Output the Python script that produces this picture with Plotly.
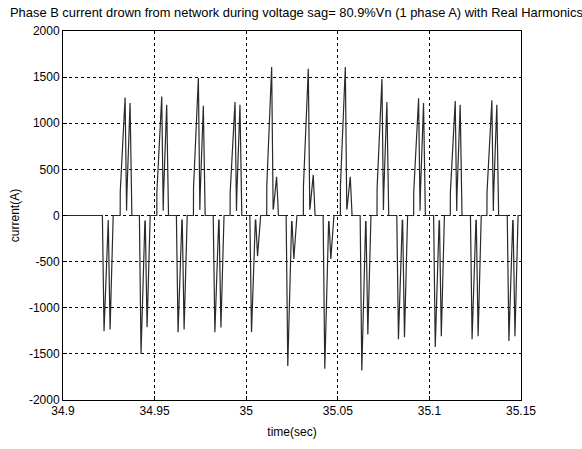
import plotly.graph_objects as go

# ---- data ----
pos_start = [34.9312, 34.9512, 34.9712, 34.9912, 35.0112, 35.0312, 35.0514, 35.0714, 35.0914, 35.1114, 35.1314]
pos_peak1 = [1280, 1290, 1490, 1230, 1610, 1590, 1610, 1480, 1270, 1240, 1250]
pos_peak2 = [1220, 1200, 1190, 1200, 420, 440, 420, 1230, 1220, 1200, 1200]

neg_start = [34.9215, 34.9417, 34.9619, 34.9820, 35.0020, 35.0218, 35.0420, 35.0622, 35.0822, 35.1023, 35.1224, 35.1425]
neg_peak1 = [-1255, -1500, -1265, -1265, -1265, -1630, -1660, -1680, -1340, -1425, -1340, -1360]
neg_peak2 = [-1235, -1210, -1235, -1215, -440, -470, -470, -1290, -1320, -1310, -1310, -1310]

x_ticks = [34.9, 34.95, 35, 35.05, 35.1, 35.15]
x_tick_text = ["34.9", "34.95", "35", "35.05", "35.1", "35.15"]
y_ticks = [-2000, -1500, -1000, -500, 0, 500, 1000, 1500, 2000]
y_tick_text = ["-2000", "-1500", "-1000", "-500", "0", "500", "1000", "1500", "2000"]

# pulse shape (time offsets within one half-cycle current pulse, seconds)
pos_dt = [0.0, 0.00005, 0.0027, 0.0035, 0.0037, 0.0054, 0.0064]
neg_dt = [0.0, 0.0009, 0.0030, 0.0032, 0.0042, 0.0057, 0.0059]

events = []
for s, a, b in zip(pos_start, pos_peak1, pos_peak2):
    vals = [0, 0.2 * a, a, 0.04 * a, 0.2 * b, b, 0]
    events.append([(s + d, v) for d, v in zip(pos_dt, vals)])
for s, a, b in zip(neg_start, neg_peak1, neg_peak2):
    vals = [0, a, 0.04 * a, 0.04 * a, b, 0.2 * b, 0]
    events.append([(s + d, v) for d, v in zip(neg_dt, vals)])
events.sort(key=lambda e: e[0][0])

t = [34.9]
cur = [0]
for e in events:
    for tt, vv in e:
        t.append(tt)
        cur.append(vv)
t.append(35.15)
cur.append(0)

fig = go.Figure()
fig.add_trace(go.Scatter(x=t, y=cur, mode="lines",
                         line=dict(color="#2a2a2a", width=1.2), showlegend=False))

font = dict(family="Liberation Sans, Arial, sans-serif", size=12, color="black")
axis_common = dict(showline=True, linecolor="black", linewidth=1, mirror=True,
                   ticks="inside", ticklen=4, tickcolor="black",
                   showgrid=True, gridcolor="black", gridwidth=1, griddash="dot",
                   zeroline=False, tickfont=font)

fig.update_layout(
    width=582, height=449,
    margin=dict(l=63, r=61, t=31, b=43),
    paper_bgcolor="white", plot_bgcolor="white",
    font=font,
    title=dict(text="Phase B current drown from network during voltage sag= 80.9%Vn (1 phase A) with Real Harmonics",
               x=10 / 582, xanchor="left", xref="container", y=0.972, yanchor="middle", yref="container",
               font=dict(family="Liberation Sans, Arial, sans-serif", size=12.9, color="black")),
    xaxis=dict(range=[34.9, 35.15], tickvals=x_ticks, ticktext=x_tick_text,
               title=dict(text="time(sec)", standoff=10, font=font), **axis_common),
    yaxis=dict(range=[-2000, 2000], tickvals=y_ticks, ticktext=y_tick_text,
               title=dict(text="current(A)", standoff=6, font=font), **axis_common),
)

fig.write_html("out.html")
